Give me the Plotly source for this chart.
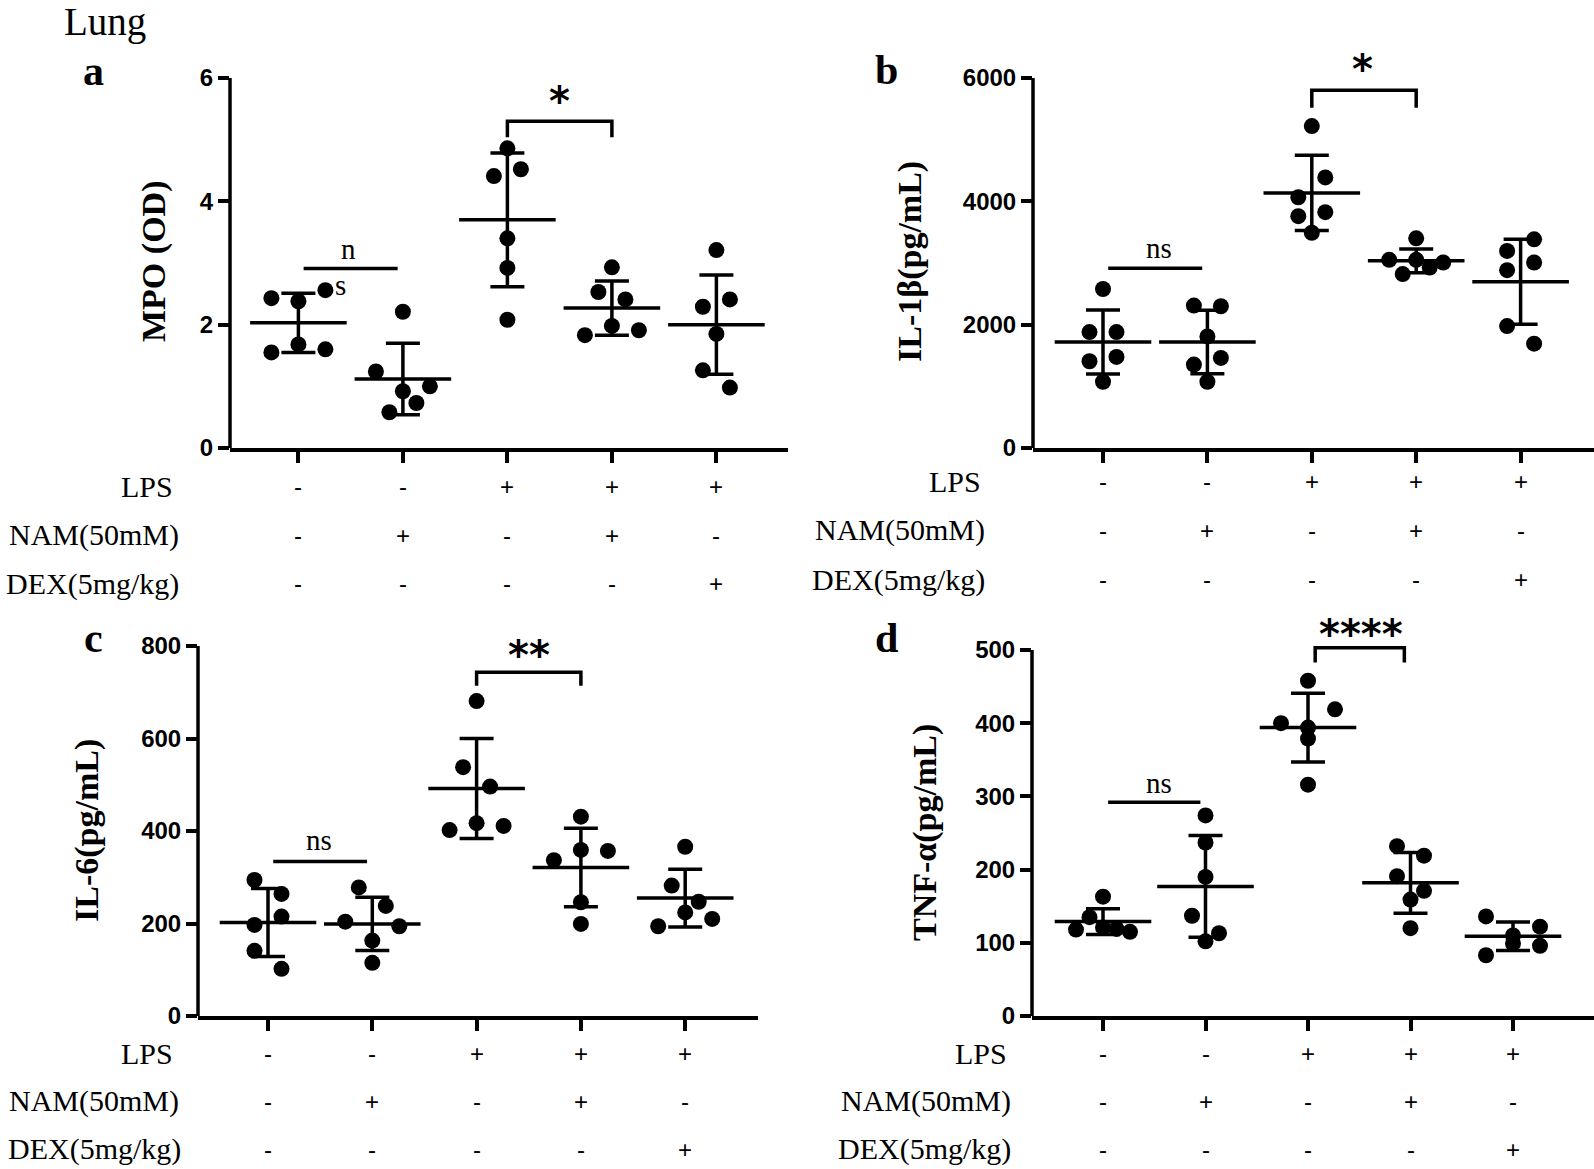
import plotly.graph_objects as go

W, H = 1594, 1169

# ---------------- data ----------------
LPS = ["-", "-", "+", "+", "+"]
NAM = ["-", "+", "-", "+", "-"]
DEX = ["-", "-", "-", "-", "+"]
ROW_NAMES = ["LPS", "NAM(50mM)", "DEX(5mg/kg)"]

mpo_points = [
    [2.43, 2.38, 2.56, 1.55, 1.68, 1.60],
    [2.21, 1.24, 0.92, 1.00, 0.58, 0.73],
    [4.86, 4.41, 4.52, 3.40, 2.92, 2.08],
    [2.93, 2.53, 2.41, 1.83, 1.98, 1.91],
    [3.21, 2.29, 2.41, 1.85, 1.26, 0.98],
]
mpo_mean = [2.03, 1.12, 3.70, 2.27, 2.00]
mpo_sd = [0.48, 0.58, 1.085, 0.44, 0.805]

il1b_points = [
    [2578, 1880, 1880, 1407, 1477, 1074],
    [2310, 2299, 1810, 1353, 1461, 1074],
    [5221, 4066, 4388, 3760, 3824, 3491],
    [3400, 3051, 2820, 3051, 2927, 3008],
    [3196, 3384, 2884, 3008, 1977, 1692],
]
il1b_mean = [1719, 1719, 4136, 3035, 2696]
il1b_sd = [518, 516, 610, 193, 688]

il6_points = [
    [294, 264, 197, 215, 141, 102],
    [278, 238, 204, 163, 194, 115],
    [681, 538, 496, 402, 417, 411],
    [431, 337, 359, 357, 246, 199],
    [366, 282, 247, 194, 224, 210],
]
il6_mean = [202, 199, 492, 321, 255]
il6_sd = [73.5, 57.5, 108, 85, 62.5]

tnf_points = [
    [163, 118, 135, 121, 119, 115],
    [274, 237, 190, 137, 102, 113],
    [458, 400, 394, 419, 379, 316],
    [232, 219, 191, 171, 159, 120],
    [136, 110, 122, 83, 99, 96],
]
tnf_mean = [129, 177, 394, 182, 109]
tnf_sd = [17.5, 69.5, 47, 41.5, 19.5]

# comparisons: (group i, group j, y of line, leg bottom (None = plain line), label)
mpo_comp = [(0, 1, 2.91, None, "ns"), (2, 3, 5.30, 5.04, "*")]
il1b_comp = [(0, 1, 2916, None, "ns"), (2, 3, 5801, 5516, "*")]
il6_comp = [(0, 1, 334, None, "ns"), (2, 3, 743, 714, "**")]
tnf_comp = [(0, 1, 292, None, "ns"), (2.07, 2.94, 503, 483, "****")]

Y_TITLES = ["MPO (OD)", "IL-1β(pg/mL)", "IL-6(pg/mL)", "TNF-α(pg/mL)"]
LETTERS = ["a", "b", "c", "d"]

# ---------------- layout geometry (pixels) ----------------
panels = [
    dict(pts=mpo_points, mean=mpo_mean, sd=mpo_sd, comp=mpo_comp, ymax=6, dtick=2,
         left=230, right=788, top=78, bottom=448, tick0=298.4, step=104.5,
         rows_y=[487, 535, 583.5], rows_r=[175, 181, 181],
         ytitle=(154, 262), letter=(93, 71),
         ns_pos=None, star_pos=(2.5, 5.63)),
    dict(pts=il1b_points, mean=il1b_mean, sd=il1b_sd, comp=il1b_comp, ymax=6000, dtick=2000,
         left=1033, right=1594, top=78, bottom=448, tick0=1103, step=104.4,
         rows_y=[482, 530, 579.5], rows_r=[983, 987, 987],
         ytitle=(910, 262), letter=(886, 70),
         ns_pos=(0.54, 3249), star_pos=(2.49, 6150)),
    dict(pts=il6_points, mean=il6_mean, sd=il6_sd, comp=il6_comp, ymax=800, dtick=200,
         left=198, right=758, top=646, bottom=1016, tick0=268, step=104.3,
         rows_y=[1053, 1101, 1149], rows_r=[175, 181, 183],
         ytitle=(87, 831), letter=(93, 638),
         ns_pos=(0.49, 380), star_pos=(2.5, 781)),
    dict(pts=tnf_points, mean=tnf_mean, sd=tnf_sd, comp=tnf_comp, ymax=500, dtick=100,
         left=1032, right=1594, top=650, bottom=1016, tick0=1103, step=102.5,
         rows_y=[1053, 1101, 1149], rows_r=[1009, 1013, 1013],
         ytitle=(925, 833), letter=(886, 638),
         ns_pos=(0.55, 318), star_pos=(2.52, 522)),
]

DOT = 16
ROW_H = 20.0      # px: points closer than this (vertically) share a row
HALF_W = 27.0     # px: half width of the scatter column
LW = 3.5
HEAD = 1.12       # headroom above the axis maximum (for brackets and stars)


def row_offsets(values, px_per_unit):
    """Column-scatter layout: bin points into rows and spread each row evenly."""
    idx = sorted(range(len(values)), key=lambda i: -values[i])
    rows = []
    for i in idx:
        if rows and (values[rows[-1][0]] - values[i]) * px_per_unit < ROW_H:
            rows[-1].append(i)
        else:
            rows.append([i])
    offs = [0.0] * len(values)
    for r in rows:
        members = sorted(r)  # left-to-right follows data order
        n = len(members)
        if n == 1:
            continue
        s = min(HALF_W, 2 * HALF_W / (n - 1))
        for p, i in enumerate(members):
            offs[i] = (p - (n - 1) / 2) * s
    return offs


def px_x(p):
    return p / W


def px_y(p):
    return 1 - p / H


fig = go.Figure()
layout = dict(width=W, height=H, margin=dict(l=0, r=0, t=0, b=0, pad=0), autosize=False,
              paper_bgcolor="white", plot_bgcolor="white", showlegend=False)
annotations = []
shapes = []

serif = "Liberation Serif, Times New Roman, serif"
sans = "Liberation Sans, Arial, sans-serif"

for k, P in enumerate(panels):
    sfx = "" if k == 0 else str(k + 1)
    xa, ya = "x" + sfx, "y" + sfx
    xr0 = (P["left"] - P["tick0"]) / P["step"]
    xr1 = (P["right"] - P["tick0"]) / P["step"]
    plot_h = P["bottom"] - P["top"]
    ppu = plot_h / P["ymax"]
    ytop_val = P["ymax"] * HEAD
    top_px_ext = P["bottom"] - ytop_val * ppu

    layout["xaxis" + sfx] = dict(
        domain=[px_x(P["left"]), px_x(P["right"])], anchor=ya, range=[xr0, xr1],
        showline=True, linecolor="black", linewidth=LW, showgrid=False, zeroline=False,
        tickmode="array", tickvals=[0, 1, 2, 3, 4], ticktext=["", "", "", "", ""],
        ticks="outside", ticklen=11, tickwidth=LW, tickcolor="black", fixedrange=True,
        automargin=False)
    layout["yaxis" + sfx] = dict(
        domain=[px_y(P["bottom"]), px_y(top_px_ext)], anchor=xa, range=[0, ytop_val],
        showline=False, showgrid=False, zeroline=False,
        tickmode="array", tickvals=list(range(0, int(P["ymax"]) + 1, int(P["dtick"]))),
        ticks="outside", ticklen=11, tickwidth=LW, tickcolor="black",
        tickfont=dict(family=sans, size=24, color="black", weight="bold"), fixedrange=True,
        automargin=False)
    # y axis line from 0 to the axis maximum
    shapes.append(dict(type="line", xref=xa + " domain", yref=ya, x0=0, x1=0,
                       y0=-P["ymax"] * 0.005, y1=P["ymax"], line=dict(color="black", width=LW)))

    # points
    xs, ys = [], []
    for g, vals in enumerate(P["pts"]):
        offs = row_offsets(vals, ppu)
        for v, o in zip(vals, offs):
            xs.append(g + o / P["step"])
            ys.append(v)
    fig.add_trace(go.Scatter(x=xs, y=ys, xaxis=xa, yaxis=ya, mode="markers",
                             marker=dict(size=DOT, color="black", line=dict(width=0)),
                             cliponaxis=False, hoverinfo="skip"))
    # mean +/- sd
    fig.add_trace(go.Scatter(x=list(range(5)), y=P["mean"], xaxis=xa, yaxis=ya, mode="markers",
                             marker=dict(symbol="line-ew", size=69, color="black",
                                         line=dict(width=LW, color="black")),
                             error_y=dict(type="data", array=P["sd"], visible=True, color="black",
                                          thickness=LW, width=17),
                             cliponaxis=False, hoverinfo="skip"))

    # comparisons
    for (i, j, yv, yleg, lab) in P["comp"]:
        if yleg is None:
            shapes.append(dict(type="line", xref=xa, yref=ya, x0=i + 0.05, x1=j - 0.05,
                               y0=yv, y1=yv, line=dict(color="black", width=LW)))
        else:
            shapes.append(dict(type="path", xref=xa, yref=ya,
                               path=f"M {i},{yleg} L {i},{yv} L {j},{yv} L {j},{yleg}",
                               line=dict(color="black", width=LW)))
            sx, sy = P["star_pos"]
            annotations.append(dict(xref=xa, yref=ya, x=sx, y=sy, text=lab, showarrow=False,
                                    font=dict(family="DejaVu Sans", size=40, color="black",
                                              weight="bold"),
                                    xanchor="center", yanchor="middle"))
    if P["ns_pos"] is not None:
        nx, ny = P["ns_pos"]
        annotations.append(dict(xref=xa, yref=ya, x=nx, y=ny, text="ns", showarrow=False,
                                font=dict(family=serif, size=29, color="black"),
                                xanchor="center", yanchor="middle"))
    else:
        annotations.append(dict(xref=xa, yref=ya, x=0.475, y=3.23, text="n", showarrow=False,
                                font=dict(family=serif, size=29, color="black"),
                                xanchor="center", yanchor="middle"))
        annotations.append(dict(xref=xa, yref=ya, x=0.40, y=2.64, text="s", showarrow=False,
                                font=dict(family=serif, size=29, color="black"),
                                xanchor="center", yanchor="middle"))

    # treatment rows
    for r, (name, signs) in enumerate(zip(ROW_NAMES, [LPS, NAM, DEX])):
        yy = px_y(P["rows_y"][r])
        annotations.append(dict(xref="paper", yref="paper", x=px_x(P["rows_r"][r]), y=yy,
                                text=name, showarrow=False, xanchor="right", yanchor="middle",
                                font=dict(family=serif, size=30, color="black")))
        for g, s in enumerate(signs):
            annotations.append(dict(xref=xa, yref="paper", x=g, y=yy, text=s, showarrow=False,
                                    xanchor="center", yanchor="middle",
                                    font=dict(family=sans, size=24, color="black")))

    # y title
    tx, ty = P["ytitle"]
    annotations.append(dict(xref="paper", yref="paper", x=px_x(tx), y=px_y(ty), text=Y_TITLES[k],
                            textangle=-90, showarrow=False, xanchor="center", yanchor="middle",
                            font=dict(family=serif, size=34, color="black", weight="bold")))
    # panel letter
    lx, ly = P["letter"]
    annotations.append(dict(xref="paper", yref="paper", x=px_x(lx), y=px_y(ly), text=LETTERS[k],
                            showarrow=False, xanchor="center", yanchor="middle",
                            font=dict(family=serif, size=42, color="black", weight="bold")))

annotations.append(dict(xref="paper", yref="paper", x=px_x(62), y=px_y(22), text="Lung",
                        showarrow=False, xanchor="left", yanchor="middle",
                        font=dict(family=serif, size=39, color="black")))

layout["annotations"] = annotations
layout["shapes"] = shapes
fig.update_layout(**layout)
fig.write_html("out.html", config={"displayModeBar": False},
               post_script="document.body.style.margin='0';document.body.style.overflow='hidden';")
